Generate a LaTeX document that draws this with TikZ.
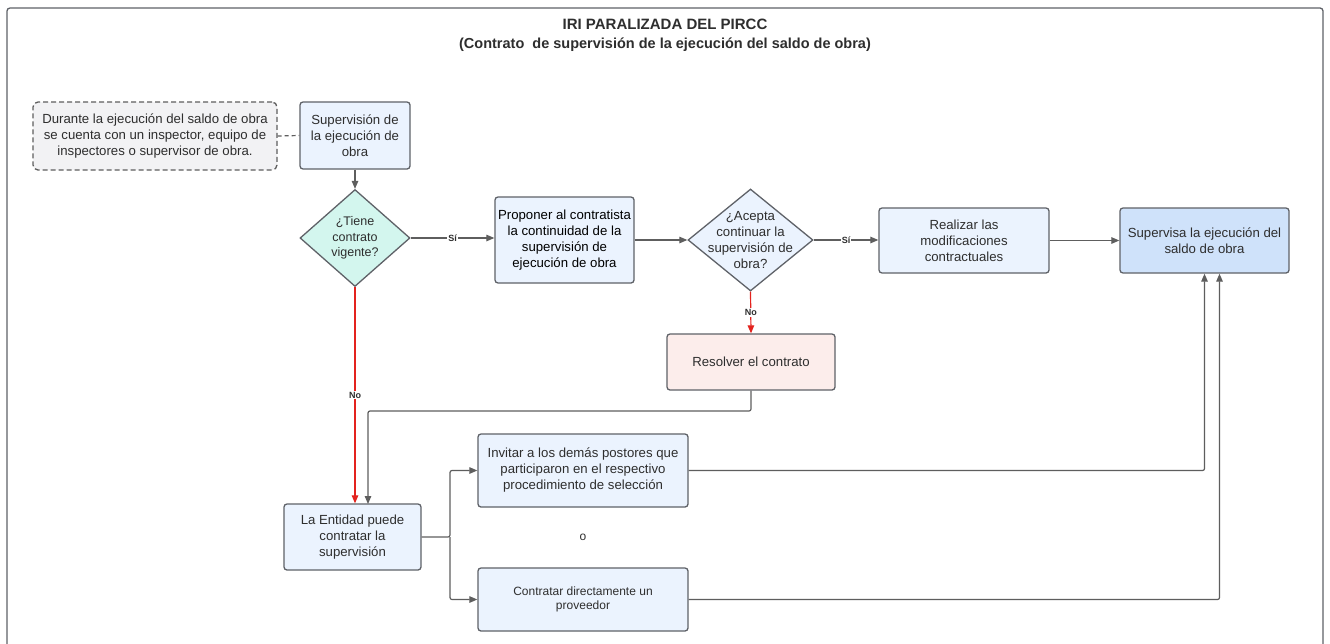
\documentclass[tikz,border=0pt]{standalone}
\usepackage{fontspec}
\setmainfont{Liberation Sans}
\usetikzlibrary{arrows.meta,shapes.geometric}
\definecolor{bordc}{HTML}{5F6268}
\definecolor{linec}{HTML}{5E5E5E}
\definecolor{redc}{HTML}{E3231E}
\definecolor{boxblue}{HTML}{EBF3FE}
\definecolor{boxdark}{HTML}{CFE2FA}
\definecolor{mint}{HTML}{D3F6EE}
\definecolor{pinkc}{HTML}{FCEDEB}
\definecolor{notec}{HTML}{F2F2F4}
\definecolor{txt}{HTML}{2E2E2E}
\begin{document}
\begin{tikzpicture}[x=1pt,y=-1pt,
  box/.style={draw=bordc, line width=1.3pt, rounded corners=3pt, fill=boxblue, align=center,
    font=\fontsize{13.2}{16}\selectfont, text=txt, inner sep=0pt},
  small/.style={font=\fontsize{12}{14.5}\selectfont},
  dia/.style={draw=bordc, line width=1.3pt, diamond, inner sep=0pt, fill=boxblue},
  arr/.style={draw=linec, line width=1.2pt, -{Triangle[length=8pt,width=6.5pt]}},
  rarr/.style={draw=redc, line width=1.2pt, -{Triangle[length=8pt,width=6.5pt]}},
  lab/.style={fill=white, inner sep=1pt, font=\fontsize{9}{10}\selectfont\bfseries, text=txt}]
\useasboundingbox (0,0) rectangle (1330,643);
\fill[white] (0,0) rectangle (1330,643);
\draw[bordc, line width=1.3pt, rounded corners=3pt] (7,660) -- (7,8) -- (1323,8) -- (1323,660);
\node[font=\fontsize{15}{17}\selectfont\bfseries, text=txt] (t1) at (665,24) {IRI PARALIZADA DEL PIRCC};
\node[font=\fontsize{14.5}{17}\selectfont\bfseries, text=txt] (t2) at (665,45) {(Contrato~ de supervisión de la ejecución del saldo de obra)};

\node[box, draw=linec, dash pattern=on 5pt off 3pt, rounded corners=5pt, fill=notec, minimum width=244pt, minimum height=68pt] (note) at (155,136)
  {Durante la ejecución del saldo de obra\\se cuenta con un inspector, equipo de\\inspectores o supervisor de obra.};
\node[box, minimum width=110pt, minimum height=67pt] (sup) at (355,135.5) {Supervisión de\\la ejecución de\\obra};
\node[dia, fill=mint, minimum width=110pt, minimum height=97pt,
  label={[align=center, font=\fontsize{12.5}{15.5}\selectfont, text=txt]center:¿Tiene\\contrato\\vigente?}] (d1) at (355,238) {};
\node[box, minimum width=139pt, minimum height=86pt, text=black] (prop) at (564.5,240)
  {Proponer al contratista\\la continuidad de la\\supervisión de\\ejecución de obra};
\node[dia, minimum width=125pt, minimum height=102pt,
  label={[align=center, font=\fontsize{13.2}{16}\selectfont, text=txt]center:¿Acepta\\continuar la\\supervisión de\\obra?}] (d2) at (750.5,240) {};
\node[box, minimum width=170pt, minimum height=65pt] (real) at (964,240.5) {Realizar las\\modificaciones\\contractuales};
\node[box, fill=boxdark, minimum width=169pt, minimum height=65pt] (supv) at (1204.5,240.5) {Supervisa la ejecución del\\saldo de obra};
\node[box, fill=pinkc, minimum width=168pt, minimum height=56pt] (res) at (751,362) {Resolver el contrato};
\node[box, minimum width=137pt, minimum height=66pt] (ent) at (352.5,537) {La Entidad puede\\contratar la\\supervisión};
\node[box, minimum width=210pt, minimum height=73pt] (inv) at (583,470.5)
  {Invitar a los demás postores que\\participaron en el respectivo\\procedimiento de selección};
\node[font=\fontsize{12}{14}\selectfont, text=txt] (o) at (583,537) {o};
\node[box, small, minimum width=210pt, minimum height=63pt] (con) at (583,599.5) {Contratar directamente un\\proveedor};

\coordinate (e1) at (368,504);
\coordinate (e1b) at (368,411);
\coordinate (fk) at (450,537);

\draw[linec, line width=1.2pt, dash pattern=on 4pt off 3pt] (note.east) -- (sup.west);
\draw[arr] (sup.south) -- (d1.north);
\draw[arr] (d1.east) -- node[lab] {Sí} (d1.east -| prop.west);
\draw[arr] (prop.east) -- (d2.west);
\draw[arr] (d2.east) -- node[lab] {Sí} (d2.east -| real.west);
\draw[arr] (real.east) -- (supv.west);
\draw[rarr] (d2.south) -- node[lab] {No} (res.north);
\draw[rarr] (d1.south) -- node[lab] {No} (d1.south |- ent.north);
\draw[arr, rounded corners=2pt] (res.south) |- (e1b) -- (e1);
\draw[arr, rounded corners=2pt] (ent.east) -- (fk) |- (inv.west);
\draw[arr, rounded corners=2pt] (fk) |- (con.west);
\draw[arr, rounded corners=2pt] (inv.east) -| (supv.south);
\draw[arr, rounded corners=2pt] (con.east) -| ([xshift=15pt]supv.south);
\end{tikzpicture}
\end{document}
